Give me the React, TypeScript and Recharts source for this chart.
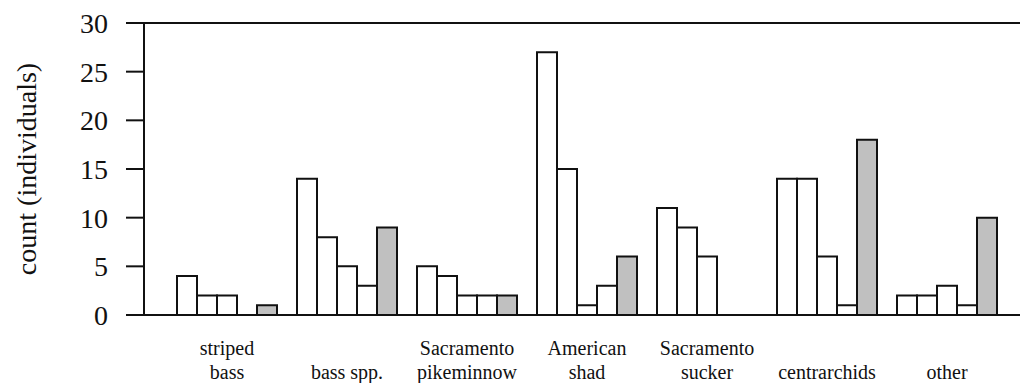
import { Bar, BarChart, Label, ReferenceLine, XAxis, YAxis } from 'recharts';

// Fish counts per taxon; four open series and one shaded series.
const CATEGORIES = [
  'striped bass',
  'bass spp.',
  'Sacramento pikeminnow',
  'American shad',
  'Sacramento sucker',
  'centrarchids',
  'other',
];
const TICK_LINES: string[][] = [
  ['striped', 'bass'],
  ['bass spp.'],
  ['Sacramento', 'pikeminnow'],
  ['American', 'shad'],
  ['Sacramento', 'sucker'],
  ['centrarchids'],
  ['other'],
];
const SERIES_A = [4, 14, 5, 27, 11, 14, 2];
const SERIES_B = [2, 8, 4, 15, 9, 14, 2];
const SERIES_C = [2, 5, 2, 1, 6, 6, 3];
const SERIES_D = [0, 3, 2, 3, 0, 1, 1];
const SERIES_E = [1, 9, 2, 6, 0, 18, 10];
const Y_TICKS = [0, 5, 10, 15, 20, 25, 30];

const data = CATEGORIES.map((name, i) => ({
  name,
  a: SERIES_A[i],
  b: SERIES_B[i],
  c: SERIES_C[i],
  d: SERIES_D[i],
  e: SERIES_E[i],
}));

const FONT = 'Liberation Serif, DejaVu Serif, serif';
const INK = '#111';
const SHADE = '#c0c0c0';

// Multi-line category labels; single-line names sit on the lower line.
function CategoryTick({ x, y, index }: any) {
  const lines = TICK_LINES[index] ?? [];
  const first = lines.length === 1 ? 56 : 32;
  return (
    <text x={x} textAnchor="middle" style={{ fontFamily: FONT, fontSize: 20 }} fill={INK}>
      {lines.map((line, k) => (
        <tspan key={k} x={x} y={y + first + k * 24}>
          {line}
        </tspan>
      ))}
    </text>
  );
}

function AxisTitle({ viewBox }: any) {
  const cy = viewBox.y + viewBox.height / 2;
  return (
    <text
      x={36}
      y={cy}
      transform={`rotate(-90, 36, ${cy})`}
      textAnchor="middle"
      style={{ fontFamily: FONT, fontSize: 28 }}
      fill={INK}
    >
      count (individuals)
    </text>
  );
}

const barProps = {
  stroke: INK,
  strokeWidth: 2,
  isAnimationActive: false,
};

export default function App() {
  return (
    <div style={{ position: 'absolute', left: 0, top: 0, background: '#fff', fontFamily: FONT }}>
      <BarChart
        width={1020}
        height={383}
        data={data}
        margin={{ top: 23, right: 0, bottom: 0, left: 0 }}
        barCategoryGap={10}
        barGap={0}
      >
        <XAxis
          dataKey="name"
          interval={0}
          padding={{ left: 23, right: 13 }}
          tickLine={false}
          axisLine={{ stroke: INK, strokeWidth: 2 }}
          tick={<CategoryTick />}
          height={68}
        />
        <YAxis
          width={144}
          domain={[0, 30]}
          ticks={Y_TICKS}
          interval={0}
          tickSize={18}
          tickMargin={18}
          axisLine={{ stroke: INK, strokeWidth: 2 }}
          tickLine={{ stroke: INK, strokeWidth: 2 }}
          tick={{ fill: INK, style: { fontFamily: FONT, fontSize: 28 } }}
        >
          <Label content={<AxisTitle />} />
        </YAxis>
        <ReferenceLine y={30} stroke={INK} strokeWidth={2} />
        <Bar dataKey="a" fill="#fff" {...barProps} />
        <Bar dataKey="b" fill="#fff" {...barProps} />
        <Bar dataKey="c" fill="#fff" {...barProps} />
        <Bar dataKey="d" fill="#fff" {...barProps} />
        <Bar dataKey="e" fill={SHADE} {...barProps} />
      </BarChart>
    </div>
  );
}
